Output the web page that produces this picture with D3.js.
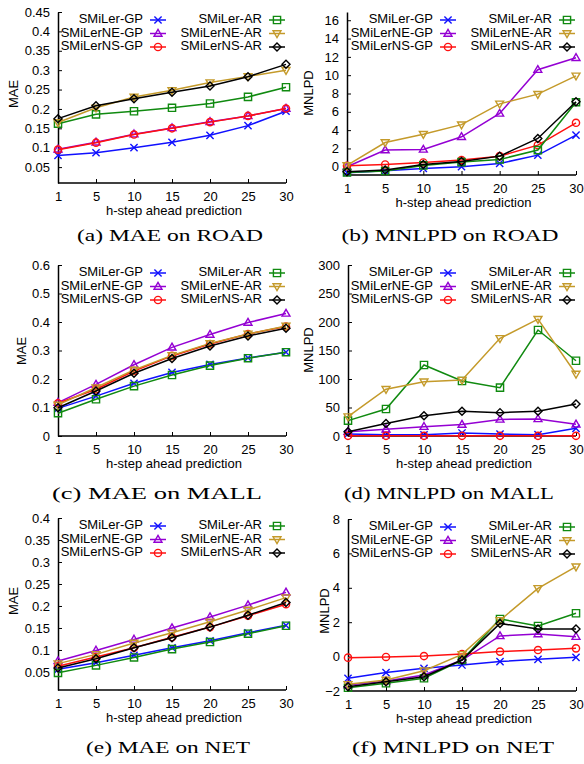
<!DOCTYPE html>
<html lang="en"><head>
<meta charset="utf-8">
<title>SMiLer MAE / MNLPD</title>
<script src="https://cdn.jsdelivr.net/npm/d3@7"></script>
<style>
body{margin:0;background:#fff;}
text{font-family:"Liberation Sans",Arial,sans-serif;}
.cap{font-family:"Liberation Serif","DejaVu Serif",serif;}
</style>
</head>
<body>
<script>
// h-step categories and series names
var steps = ["1","5","10","15","20","25","30"];
var names = ["SMiLer-GP","SMiLerNE-GP","SMiLerNS-GP","SMiLer-AR","SMiLerNE-AR","SMiLerNS-AR"];
var colors = ["#1010ff","#9400d3","#ff1010","#108a10","#c49a2a","#000000"];
var shapes = ["x","up","circle","square","down","diamond"];

// series order: GP, NE-GP, NS-GP, AR, NE-AR, NS-AR
var maeRoad = [
  [0.080,0.087,0.100,0.114,0.132,0.157,0.194],
  [0.096,0.114,0.135,0.151,0.167,0.182,0.201],
  [0.095,0.113,0.134,0.150,0.166,0.182,0.201],
  [0.162,0.186,0.194,0.203,0.214,0.231,0.256],
  [0.165,0.203,0.231,0.248,0.268,0.284,0.300],
  [0.175,0.208,0.226,0.243,0.259,0.283,0.315]
];
var mnlpdRoad = [
  [-0.65,-0.44,-0.18,0.00,0.36,1.27,3.45],
  [0.00,1.82,1.89,3.27,5.82,10.6,11.9],
  [0.10,0.25,0.47,0.73,1.16,2.36,4.80],
  [-0.62,-0.47,0.15,0.51,0.80,1.82,7.05],
  [0.15,2.65,3.56,4.60,6.87,7.93,9.93],
  [-0.55,-0.36,0.25,0.58,1.16,3.09,7.09]
];
var maeMall = [
  [0.097,0.140,0.185,0.223,0.251,0.274,0.294],
  [0.117,0.181,0.250,0.311,0.356,0.398,0.430],
  [0.115,0.164,0.228,0.281,0.323,0.358,0.384],
  [0.080,0.129,0.175,0.214,0.247,0.273,0.294],
  [0.109,0.170,0.232,0.283,0.325,0.358,0.386],
  [0.099,0.158,0.220,0.272,0.316,0.351,0.378]
];
var mnlpdMall = [
  [3.5,2.0,2.0,5.3,3.5,2.3,13.5],
  [7.6,11.7,16.4,20.0,29.0,30.0,20.5],
  [0.3,0.3,0.3,0.3,0.3,0.3,0.3],
  [27,47.4,124.6,96.5,84.8,186,132],
  [34,82,95.3,98.2,171.3,205,108.8],
  [7.6,22,35.7,43.3,41,43.3,56.1]
];
var maeNet = [
  [0.056,0.071,0.088,0.105,0.121,0.139,0.156],
  [0.075,0.099,0.124,0.150,0.175,0.202,0.231],
  [0.063,0.084,0.105,0.129,0.152,0.178,0.204],
  [0.048,0.065,0.083,0.102,0.118,0.137,0.155],
  [0.069,0.090,0.116,0.139,0.164,0.191,0.219],
  [0.059,0.080,0.105,0.128,0.152,0.179,0.208]
];
var mnlpdNet = [
  [-1.26,-0.93,-0.68,-0.49,-0.29,-0.16,-0.04],
  [-1.65,-1.42,-1.07,-0.20,1.20,1.31,1.16],
  [-0.06,-0.02,0.03,0.15,0.29,0.38,0.48],
  [-1.81,-1.55,-1.26,-0.20,2.19,1.78,2.52],
  [-1.61,-1.36,-0.82,0.13,2.11,3.97,5.23],
  [-1.75,-1.46,-1.17,-0.20,1.93,1.60,1.60]
];

var maeRoadTicks = [0.05,0.1,0.15,0.2,0.25,0.3,0.35,0.4,0.45];
var mnlpdRoadTicks = [0,2,4,6,8,10,12,14,16];
var maeMallTicks = [0,0.1,0.2,0.3,0.4,0.5,0.6];
var mnlpdMallTicks = [0,50,100,150,200,250,300];
var maeNetTicks = [0.05,0.1,0.15,0.2,0.25,0.3,0.35,0.4];
var mnlpdNetTicks = [-2,0,2,4,6,8];

var width = 584, height = 764;
var svg = d3.select("body").append("svg").attr("width",width).attr("height",height);

var panels = [
  {data:maeRoad, ticks:maeRoadTicks, dom:[0.009,0.45], ylab:"MAE", cap:"(a) MAE on ROAD",
   l:58, r:286, t:12, b:183, ylx:15, yly:94, capx:170, capy:241, capw:186},
  {data:mnlpdRoad, ticks:mnlpdRoadTicks, dom:[-0.9,16.9], ylab:"MNLPD", cap:"(b) MNLPD on ROAD",
   l:347, r:576, t:12, b:175, ylx:310, yly:93, capx:450, capy:241, capw:217},
  {data:maeMall, ticks:maeMallTicks, dom:[0,0.6], ylab:"MAE", cap:"(c) MAE on MALL",
   l:58, r:286, t:265, b:436, ylx:23, yly:351, capx:157, capy:499, capw:210},
  {data:mnlpdMall, ticks:mnlpdMallTicks, dom:[0,300], ylab:"MNLPD", cap:"(d) MNLPD on MALL",
   l:348, r:576, t:265, b:436, ylx:310, yly:350, capx:449, capy:499, capw:210},
  {data:maeNet, ticks:maeNetTicks, dom:[0.009,0.4], ylab:"MAE", cap:"(e) MAE on NET",
   l:58, r:286, t:518, b:690, ylx:15, yly:601, capx:168, capy:753, capw:164},
  {data:mnlpdNet, ticks:mnlpdNetTicks, dom:[-2,8], ylab:"MNLPD", cap:"(f) MNLPD on NET",
   l:348, r:576, t:519, b:691, ylx:326, yly:611, capx:453, capy:753, capw:202}
];

function marker(type, s){
  if(type=="x") return "M"+(-s)+","+(-s)+"L"+s+","+s+"M"+(-s)+","+s+"L"+s+","+(-s);
  if(type=="up") return "M0,"+(-s*1.15)+"L"+(s*1.1)+","+(s*0.75)+"L"+(-s*1.1)+","+(s*0.75)+"Z";
  if(type=="down") return "M0,"+(s*1.15)+"L"+(s*1.1)+","+(-s*0.75)+"L"+(-s*1.1)+","+(-s*0.75)+"Z";
  if(type=="square") return "M"+(-s)+","+(-s)+"H"+s+"V"+s+"H"+(-s)+"Z";
  if(type=="diamond") return "M0,"+(-s)+"L"+s+",0L0,"+s+"L"+(-s)+",0Z";
  return d3.symbol(d3.symbolCircle, Math.PI*s*s)();
}

panels.forEach(function(p){
  var g = svg.append("g");
  var x = d3.scalePoint().domain(steps).range([p.l,p.r]);
  var y = d3.scaleLinear().domain(p.dom).range([p.b,p.t]);

  var yAxis = d3.axisLeft(y).tickValues(p.ticks).tickFormat(d3.format("~g")).tickSizeInner(-4).tickSizeOuter(0).tickPadding(8);
  var gy = g.append("g").attr("transform","translate("+p.l+",0)").call(yAxis);
  var xAxis = d3.axisBottom(x).tickSizeInner(-4).tickSizeOuter(0).tickPadding(9);
  var gx = g.append("g").attr("transform","translate(0,"+p.b+")").call(xAxis);
  [gx,gy].forEach(function(a){
    a.select(".domain").attr("stroke","#000").attr("stroke-width",1.5);
    a.selectAll(".tick line").attr("stroke","#000");
    a.selectAll(".tick text").attr("font-size","13px").attr("fill","#000").attr("font-family","Liberation Sans, Arial, sans-serif");
  });
  gx.select(".domain").attr("d","M"+p.l+",0H"+p.r);

  g.append("text").attr("transform","translate("+p.ylx+","+p.yly+") rotate(-90)")
    .attr("text-anchor","middle").attr("dominant-baseline","middle").attr("font-size","13px").text(p.ylab);
  g.append("text").attr("x",(p.l+p.r)/2+2).attr("y",p.b+32).attr("text-anchor","middle")
    .attr("font-size","13px").text("h-step ahead prediction");
  g.append("text").attr("class","cap").attr("x",p.capx).attr("y",p.capy).attr("text-anchor","middle")
    .attr("font-size","17px").attr("textLength",p.capw).attr("lengthAdjust","spacingAndGlyphs").text(p.cap);

  var line = d3.line().x(function(d,i){return x(steps[i]);}).y(function(d){return y(d);});
  p.data.forEach(function(s,k){
    g.append("path").attr("d",line(s)).attr("fill","none").attr("stroke",colors[k]).attr("stroke-width",1.5);
    g.selectAll(".m"+k).data(s).enter().append("path").attr("class","m"+k)
      .attr("transform",function(d,i){return "translate("+x(steps[i])+","+y(d)+")";})
      .attr("d",marker(shapes[k],shapes[k]=="diamond"?4:3.6))
      .attr("fill","none").attr("stroke",colors[k]).attr("stroke-width",1.4);
  });

  // legend, two columns
  names.forEach(function(n,k){
    var col = Math.floor(k/3), row = k%3;
    var mx = p.r - (col==0 ? 128 : 9);
    var ly = p.t + 8 + row*13.5;
    g.append("text").attr("x",mx-15).attr("y",ly).attr("dominant-baseline","middle")
      .attr("text-anchor","end").attr("font-size","13px").text(n);
    g.append("line").attr("x1",mx-8).attr("x2",mx+8).attr("y1",ly).attr("y2",ly)
      .attr("stroke",colors[k]).attr("stroke-width",1.5);
    g.append("path").attr("transform","translate("+mx+","+ly+")")
      .attr("d",marker(shapes[k],shapes[k]=="diamond"?4:3.6))
      .attr("fill","none").attr("stroke",colors[k]).attr("stroke-width",1.4);
  });
});
</script>
</body>
</html>
